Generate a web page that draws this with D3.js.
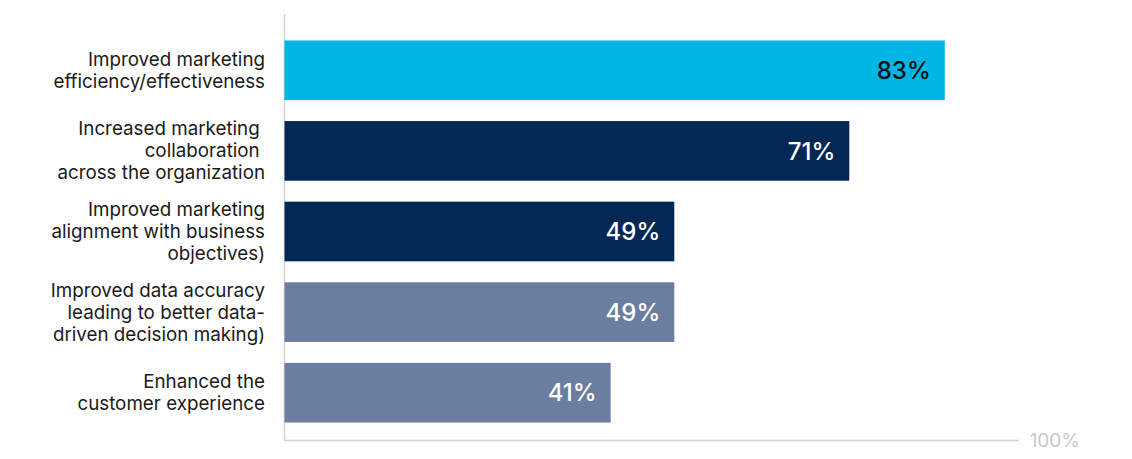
<!DOCTYPE html>
<html><head><meta charset="utf-8">
<script src="https://cdn.jsdelivr.net/npm/d3@7"></script>
<style>
html,body{margin:0;padding:0;background:#fff;}
svg{display:block;}
</style></head>
<body>
<svg id="chart" width="1132" height="459"></svg>
<script>
const categories = [
  ["Improved marketing", "efficiency/effectiveness"],
  ["Increased marketing ", "collaboration ", "across the organization"],
  ["Improved marketing", "alignment with business", "objectives)"],
  ["Improved data accuracy", "leading to better data-", "driven decision making)"],
  ["Enhanced the", "customer experience"]
];
const values = [83, 71, 49, 49, 41];
const colors = ["#00b4e3", "#032855", "#032855", "#6a7e9f", "#6a7e9f"];
const labelColors = ["#111111", "#ffffff", "#ffffff", "#ffffff", "#ffffff"];
const maxLabel = "100%";

const svg = d3.select("#chart");
const x0 = 284.5, xMax = 1080;
const x = d3.scaleLinear().domain([0, 100]).range([x0, xMax]);
const y = d3.scaleBand().domain(d3.range(values.length)).range([19.5, 443.5]).paddingInner(0.26).paddingOuter(0.26);

const font = "Inter, 'Open Sans', sans-serif";

// axes lines
svg.append("line").attr("x1", x0).attr("x2", x0).attr("y1", 14).attr("y2", 440.5)
  .attr("stroke", "#d4d4d4").attr("stroke-width", 1.5);
svg.append("line").attr("x1", x0).attr("x2", 1019).attr("y1", 440.5).attr("y2", 440.5)
  .attr("stroke", "#d4d4d4").attr("stroke-width", 1.5);
svg.append("text").attr("x", x(100)).attr("y", 440).attr("dy", "0.35em")
  .attr("text-anchor", "end").attr("fill", "#c8c8c8")
  .style("font-family", font).style("font-size", "19px").text(maxLabel);

const g = svg.append("g");
g.selectAll("rect").data(values).join("rect")
  .attr("x", x(0)).attr("y", (d, i) => y(i))
  .attr("width", d => x(d) - x(0)).attr("height", y.bandwidth())
  .attr("fill", (d, i) => colors[i]);

g.selectAll("text.val").data(values).join("text").attr("class", "val")
  .attr("x", d => x(d) - 14).attr("y", (d, i) => y(i) + y.bandwidth() / 2)
  .attr("dy", "0.36em").attr("text-anchor", "end")
  .attr("fill", (d, i) => labelColors[i])
  .style("font-family", font).style("font-size", "24px").style("font-weight", 500)
  .text(d => d + "%");

categories.forEach((lines, i) => {
  const cy = y(i) + y.bandwidth() / 2;
  const lh = 22;
  const t = svg.append("text").attr("text-anchor", "end")
    .attr("fill", "#1a1a1a").style("font-family", font).style("font-size", "18.8px");
  lines.forEach((ln, j) => {
    t.append("tspan").attr("x", 265).attr("y", cy + (j - (lines.length - 1) / 2) * lh)
      .attr("dy", "0.35em").style("white-space", "pre").text(ln);
  });
});
</script>
</body></html>
